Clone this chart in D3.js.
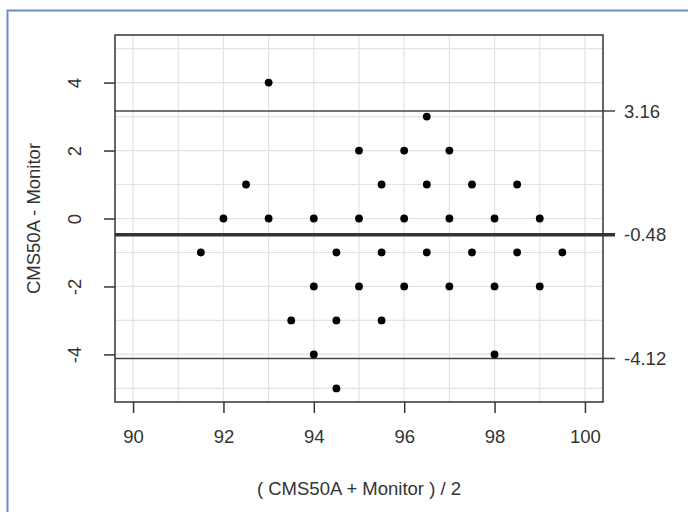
<!DOCTYPE html>
<html>
<head>
<meta charset="utf-8">
<script src="https://cdn.jsdelivr.net/npm/d3@7"></script>
<style>
  body { margin: 0; background: #fff; }
  svg { display: block; }
  text { font-family: "Liberation Sans", Arial, sans-serif; }
</style>
</head>
<body>
<svg id="chart" width="688" height="512"></svg>
<script>
// Bland-Altman data: mean of the two readings vs their difference
const meanVals = [91.5, 92, 92.5, 93, 93, 93.5, 94, 94, 94, 94.5, 94.5, 94.5,
    95, 95, 95, 95.5, 95.5, 95.5, 96, 96, 96, 96.5, 96.5, 96.5,
    97, 97, 97, 97.5, 97.5, 98, 98, 98, 98.5, 98.5, 99, 99, 99.5];
const diffVals = [-1, 0, 1, 4, 0, -3, 0, -2, -4, -1, -3, -5,
    2, 0, -2, 1, -1, -3, 2, 0, -2, 3, 1, -1,
    2, 0, -2, 1, -1, 0, -2, -4, 1, -1, 0, -2, -1];
const xTicks = [90, 92, 94, 96, 98, 100];
const yTicks = [-4, -2, 0, 2, 4];
const refLines = [3.16, -0.48, -4.12];

const svg = d3.select("#chart");
const plot = { left: 115, top: 35, right: 603, bottom: 402 };
const fs = 18.5, txt = "#333";

const x = d3.scaleLinear().domain([89.6, 100.4]).range([plot.left, plot.right]);
const y = d3.scaleLinear().domain([-5.4, 5.4]).range([plot.bottom, plot.top]);

// outer blue frame (runs off the right and bottom edges)
svg.append("rect")
    .attr("x", 7.5).attr("y", 10.5)
    .attr("width", 700).attr("height", 520)
    .attr("fill", "none")
    .attr("stroke", "#6b8cc8")
    .attr("stroke-width", 2);

// grid, one line per unit
const g = svg.append("g");
g.selectAll(".gx").data(d3.range(90, 101)).enter().append("line")
    .attr("x1", d => x(d)).attr("x2", d => x(d))
    .attr("y1", plot.top).attr("y2", plot.bottom)
    .attr("stroke", "#e3e3e3").attr("stroke-width", 1.2);
g.selectAll(".gy").data(d3.range(-5, 6)).enter().append("line")
    .attr("x1", plot.left).attr("x2", plot.right)
    .attr("y1", d => y(d)).attr("y2", d => y(d))
    .attr("stroke", "#e3e3e3").attr("stroke-width", 1.2);

// mean and limits of agreement
svg.selectAll(".ref").data(refLines).enter().append("line")
    .attr("x1", plot.left).attr("x2", 615)
    .attr("y1", d => y(d)).attr("y2", d => y(d))
    .attr("stroke", (d, i) => i === 1 ? "#333" : "#444")
    .attr("stroke-width", (d, i) => i === 1 ? 3.5 : 1.5);
svg.selectAll(".refLabel").data(refLines).enter().append("text")
    .attr("x", 624).attr("y", d => y(d))
    .attr("dy", "0.36em")
    .attr("font-size", fs).attr("fill", txt)
    .text(d => d.toFixed(2));

// points
svg.selectAll(".pt").data(meanVals).enter().append("circle")
    .attr("cx", d => x(d))
    .attr("cy", (d, i) => y(diffVals[i]))
    .attr("r", 3.9)
    .attr("fill", "#000");

// box
svg.append("rect")
    .attr("x", plot.left).attr("y", plot.top)
    .attr("width", plot.right - plot.left).attr("height", plot.bottom - plot.top)
    .attr("fill", "none").attr("stroke", "#333").attr("stroke-width", 1.5);

// x axis
const xAxis = svg.append("g")
    .attr("transform", `translate(0,${plot.bottom})`)
    .call(d3.axisBottom(x).tickValues(xTicks).tickSize(11).tickPadding(17).tickFormat(d => String(d)));
xAxis.select(".domain").remove();
xAxis.selectAll("line").attr("stroke", "#333").attr("stroke-width", 1.5);
xAxis.selectAll("text").attr("font-size", fs).attr("fill", txt)
    .style("font-family", "'Liberation Sans', Arial, sans-serif");

// y axis, labels turned parallel to the axis (plain hyphen minus like R)
const yAxis = svg.append("g")
    .attr("transform", `translate(${plot.left},0)`)
    .call(d3.axisLeft(y).tickValues(yTicks).tickSize(11).tickFormat(d => String(d)));
yAxis.select(".domain").remove();
yAxis.selectAll("line").attr("stroke", "#333").attr("stroke-width", 1.5);
yAxis.selectAll("text")
    .attr("font-size", fs).attr("fill", txt)
    .style("font-family", "'Liberation Sans', Arial, sans-serif")
    .attr("x", null).attr("dy", null)
    .attr("text-anchor", "middle")
    .attr("transform", "translate(-41,0) rotate(-90) translate(0,6.5)");

// axis titles
svg.append("text")
    .attr("x", (plot.left + plot.right) / 2).attr("y", 495)
    .attr("text-anchor", "middle").attr("font-size", fs).attr("fill", txt)
    .text("( CMS50A + Monitor ) / 2");
svg.append("text")
    .attr("transform", `translate(40,${(plot.top + plot.bottom) / 2}) rotate(-90)`)
    .attr("text-anchor", "middle").attr("font-size", fs).attr("fill", txt)
    .text("CMS50A - Monitor");
</script>
</body>
</html>
